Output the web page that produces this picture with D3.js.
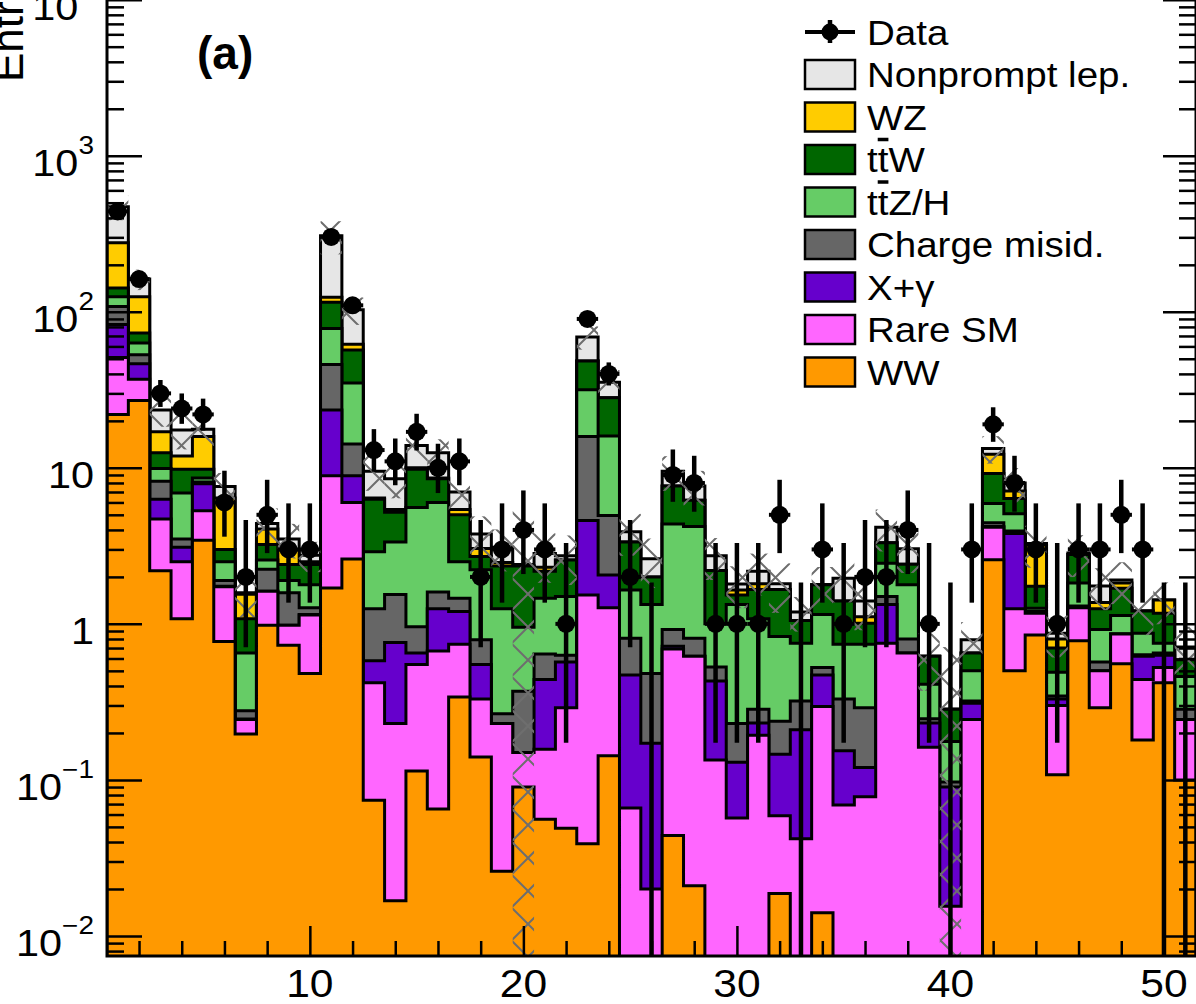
<!DOCTYPE html>
<html>
<head>
<meta charset="utf-8">
<script src="https://cdn.jsdelivr.net/npm/d3@7"></script>
<style>
body { margin: 0; background: #fff; }
text { font-family: "Liberation Sans", Arial, Helvetica, sans-serif; fill: #000; }
</style>
</head>
<body>
<svg id="chart" width="1196" height="1004"></svg>
<script>
// Bins 1..51, yields per process
var bins = d3.range(1, 52);

var ww = [22, 27, 2.19, 1.08, 3.43, 0.77, 0.197, 0.98, 0.73, 0.48,
    1.7, 2.6, 0.074, 0.0168, 0.114, 0.065, 0.34, 0.14, 0.026, 0.09,
    0.056, 0.049, 0.039, 0.143, 0, 0, 0.044, 0.021, 0, 0,
    0, 0.0187, 0, 0.0141, 0, 0, 0, 0, 0, 0,
    0, 2.58, 0.5, 0.85, 0.108, 0.78, 0.29, 0.556, 0.18, 0.42, 0.1];
var rareSM = [29, 10, 2.51, 1.42, 1.87, 0.96, 0.047, 0.64, 0.25, 0.66,
    7.2, 3.4, 0.346, 0.213, 0.436, 0.605, 0.4, 0.19, 0.204, 0.06,
    0.101, 0.241, 1.491, 1.127, 0.066, 0.02, 0.646, 0.599, 0.134, 0.057,
    0.193, 0.0403, 0.042, 0.2809, 0.069, 0.078, 0.75, 0.65, 0.162, 0.0155,
    0.244, 1.58, 0.75, 0.32, 0.192, 0.49, 0.21, 0.304, 0.26, 0.105, 0.144];
var xGamma = [32, 9.5, 1.6, 0.6, 2.6, 0.01, 0.002, 0, 0, 0.01,
    14.6, 2.9, 0.16, 0.53, 0.1, 0.58, 0.46, 0.22, 0, 0,
    0.283, 0.28, 3.07, 0.79, 0.404, 0.152, 0.03, 0, 0.296, 0.073,
    0.039, 0.087, 0.168, 0.175, 0.085, 0.042, 0.58, 0, 0.07, 0.0745,
    0.066, 0.04, 2.55, 0.01, 0.03, 0.01, 0, 0, 0.18, 0.105, 0];
var chargeMis = [25, 6.5, 1.9, 0.4, 0.2, 0.16, 0.031, 0.62, 0.6, 0.12,
    22.5, 5.3, 0.67, 0.78, 0.31, 0.35, 0.26, 0.24, 0.035, 0.22,
    0.2, 0.06, 11.3, 2.88, 0.34, 0.308, 0.2, 0.19, 0.1, 0.1,
    0.052, 0.092, 0.11, 0.055, 0.176, 0.17, 0.17, 0.15, 0.015, 0.007,
    0.01, 0.25, 0.14, 0.02, 0.015, 0.02, 0.07, 0, 0.015, 0.02, 0.04];
var ttZH = [17, 10, 1.7, 3.4, 0.5, 0.6, 0.373, 0.33, 0.32, 0.51,
    32, 20.8, 1.65, 1.81, 4.6, 4.4, 1.04, 1.43, 0.985, 0.58,
    0.82, 0.87, 15.7, 11.06, 0.84, 0.85, 3.44, 3.39, 0.47, 1.1,
    0.796, 0.592, 0.43, 0.625, 0.41, 0.45, 0.95, 0.98, 0.163, 0.079,
    0.18, 1.45, 1.13, 0.06, 0.145, 0.53, 0.35, 0.27, 0.235, 0.1, 0.176];
var ttW = [17, 10, 2.6, 2.9, 1.2, 0.5, 0.43, 0.66, 0.5, 0.62,
    37, 22, 3.4, 1.85, 4.24, 2.5, 2.5, 0.48, 1.1, 1.4,
    0.71, 1.07, 16.7, 12.1, 1.7, 0.67, 3.29, 2.0, 1.2, 0.2,
    0.58, 0.83, 0.3, 0.63, 0.66, 0.27, 0.86, 0.63, 0.21, 0.108,
    0.15, 3.3, 1.28, 0.48, 0.21, 0.95, 0.33, 0.56, 0.34, 0.42, 0.13];
var wz = [135, 52, 4.5, 2.1, 6.1, 3.4, 0.47, 0.83, 0.57, 0.1,
    9, 5, 0.1, 0.2, 0.2, 0.1, 0.4, 0.34, 0.12, 0,
    0.14, 0, 0, 0, 0, 0, 0, 0, 0, 0.12,
    0.15, 0, 0, 0, 0, 0.1, 0, 0, 0, 0,
    0, 3.0, 0.75, 1.46, 0.1, 0, 0.12, 0.14, 0, 0.25, 0];
var nonprompt = [194, 37, 6.5, 5.6, 1.8, 1.2, 0.03, 0.34, 0.53, 0.25,
    183, 41, 3.1, 3.1, 3.9, 3.9, 1.6, 0.72, 0.63, 0.05,
    0.51, 0.16, 20.6, 7.2, 0.55, 0.61, 1.85, 1.45, 0.53, 0.15,
    0.36, 0.15, 0.14, 0, 0.56, 0.29, 0.85, 0.62, 0, 0,
    0.14, 1.1, 0.88, 0.07, 0.07, 0.07, 0.38, 0.08, 0, 0, 0.12];

// relative uncertainty of the total prediction (hatched band)
var relUnc = [0.18, 0.15, 0.22, 0.25, 0.22, 0.22, 0.3, 0.25, 0.25, 0.22,
    0.24, 0.2, 0.25, 0.25, 0.22, 0.22, 0.25, 0.3, 0.3, 1.2,
    0.35, 0.35, 0.17, 0.2, 0.3, 0.35, 0.25, 0.25, 0.3, 0.3,
    0.3, 0.35, 0.25, 0.3, 0.3, 0.35, 0.3, 0.3, 0.4, 1.5,
    0.3, 0.2, 0.25, 0.3, 0.3, 0.3, 0.3, 0.3, 0.3, 0.3, 0.35];

var dataCounts = [440, 162, 30, 24, 22, 6, 2, 5, 3, 3,
    302, 110, 13, 11, 17, 10, 11, 2, 3, 4,
    3, 1, 90, 40, 2, 0, 9, 8, 1, 1,
    1, 5, 0, 3, 1, 2, 2, 4, 1, 0,
    3, 19, 8, 3, 1, 3, 3, 5, 3, 0, 0];

var processes = ["WW", "Rare SM", "X+\u03b3", "Charge misid.", "ttZ/H", "ttW", "WZ", "Nonprompt lep."];
var colors = ["#ff9900", "#ff66ff", "#6600cc", "#666666", "#66cc66", "#006600", "#ffcc00", "#e6e6e6"];
var yields = [ww, rareSM, xGamma, chargeMis, ttZH, ttW, wz, nonprompt];

var xMajor = [10, 20, 30, 40, 50];
var yDecades = [1e-2, 1e-1, 1, 10, 1e2, 1e3, 1e4];
var yLabelBase = ["10", "10", "1", "10", "10", "10", "10"];
var yLabelExp = ["\u22122", "\u22121", "", "", "2", "3", "4"];

(function() {
    // Scales //////////////////////////////////////////////////////////
    var plotLeft = 107, plotRight = 1196, plotBottom = 956, plotTop = -30;
    var floorY = plotBottom + 8;
    var x = d3.scaleLinear().domain([0.5, 51.5]).range([plotLeft, plotRight]);
    var y = d3.scaleLog().domain([0.00744, 15500]).range([plotBottom, plotTop]);

    var svg = d3.select("#chart");
    var defs = svg.append("defs");

    defs.append("clipPath").attr("id", "plotClip")
        .append("rect")
            .attr("x", plotLeft).attr("y", plotTop)
            .attr("width", plotRight - plotLeft).attr("height", plotBottom - plotTop);

    // cross hatch for the uncertainty band
    var hatch = defs.append("pattern")
        .attr("id", "hatch")
        .attr("patternUnits", "userSpaceOnUse")
        .attr("width", 33).attr("height", 33);
    hatch.append("path")
        .attr("d", "M0,0L33,33M33,0L0,33M-4,29L4,37M29,-4L37,4M-4,4L4,-4M29,37L37,29")
        .attr("stroke", "#6e6e6e")
        .attr("stroke-width", 2)
        .attr("fill", "none");

    function yClamp(v) {
        if (!(v > 0)) return floorY;
        return Math.min(y(v), floorY);
    }

    function stepPath(vals) {
        var p = "M" + x(0.5) + "," + floorY;
        vals.forEach(function(v, i) {
            var yy = yClamp(v);
            p += "L" + x(i + 0.5) + "," + yy + "L" + x(i + 1.5) + "," + yy;
        });
        return p + "L" + x(51.5) + "," + floorY + "Z";
    }

    // Stack ///////////////////////////////////////////////////////////
    var rows = bins.map(function(b, i) {
        var r = {};
        processes.forEach(function(p, k) { r[p] = yields[k][i]; });
        return r;
    });
    var series = d3.stack().keys(processes)(rows);

    var plot = svg.append("g").attr("clip-path", "url(#plotClip)");

    // draw cumulative histograms from the top one down
    series.slice().reverse().forEach(function(s) {
        plot.append("path")
            .attr("d", stepPath(s.map(function(d) { return d[1]; })))
            .attr("fill", colors[s.index])
            .attr("stroke", "#000")
            .attr("stroke-width", 3)
            .attr("stroke-linejoin", "miter");
    });

    // Uncertainty band
    var totals = series[series.length - 1].map(function(d) { return d[1]; });
    plot.selectAll(".band")
        .data(totals)
        .enter()
        .append("rect")
            .attr("class", "band")
            .attr("x", function(d, i) { return x(i + 0.5); })
            .attr("width", x(1.5) - x(0.5))
            .attr("y", function(d, i) { return y(d * (1 + relUnc[i])); })
            .attr("height", function(d, i) {
                return Math.max(0, yClamp(d * (1 - relUnc[i])) - y(d * (1 + relUnc[i])));
            })
            .attr("fill", "url(#hatch)");

    // Data (Garwood intervals) ////////////////////////////////////////
    function poissonCdf(k, mu) {
        if (k < 0) return 0;
        var terms = [];
        var lf = 0;
        for (var i = 0; i <= k; i++) {
            if (i > 1) lf += Math.log(i);
            terms.push(-mu + i * Math.log(mu) - lf);
        }
        var m = d3.max(terms);
        return Math.exp(m) * d3.sum(terms, function(t) { return Math.exp(t - m); });
    }
    function solve(f, target, lo, hi) {
        for (var it = 0; it < 80; it++) {
            var mid = (lo + hi) / 2;
            if (f(mid) > target) lo = mid; else hi = mid;
        }
        return (lo + hi) / 2;
    }
    var alpha = (1 - 0.6827) / 2;
    var dataPts = dataCounts.map(function(n, i) {
        var hiLim = n + 10 * Math.sqrt(n) + 10;
        var up = solve(function(mu) { return poissonCdf(n, mu); }, alpha, 1e-9, hiLim);
        var dn = n > 0 ? solve(function(mu) { return poissonCdf(n - 1, mu); }, 1 - alpha, 1e-9, hiLim) : 0;
        return {bin: bins[i], n: n, up: up, dn: dn};
    });

    plot.selectAll(".ebar")
        .data(dataPts)
        .enter()
        .append("line")
            .attr("class", "ebar")
            .attr("x1", function(d) { return x(d.bin); })
            .attr("x2", function(d) { return x(d.bin); })
            .attr("y1", function(d) { return yClamp(d.dn); })
            .attr("y2", function(d) { return y(d.up); })
            .attr("stroke", "#000")
            .attr("stroke-width", 4.5);

    plot.selectAll(".hbar")
        .data(dataPts.filter(function(d) { return d.n > 0; }))
        .enter()
        .append("line")
            .attr("class", "hbar")
            .attr("x1", function(d) { return x(d.bin - 0.5); })
            .attr("x2", function(d) { return x(d.bin + 0.5); })
            .attr("y1", function(d) { return y(d.n); })
            .attr("y2", function(d) { return y(d.n); })
            .attr("stroke", "#000")
            .attr("stroke-width", 4);

    plot.selectAll(".dot")
        .data(dataPts.filter(function(d) { return d.n > 0; }))
        .enter()
        .append("circle")
            .attr("class", "dot")
            .attr("cx", function(d) { return x(d.bin); })
            .attr("cy", function(d) { return y(d.n); })
            .attr("r", 9)
            .attr("fill", "#000");

    // Axes ////////////////////////////////////////////////////////////
    var yMinor = [];
    d3.range(-3, 5).forEach(function(e) {
        d3.range(2, 10).forEach(function(k) {
            var v = k * Math.pow(10, e);
            if (v > 0.00744 && v < 15500) yMinor.push(v);
        });
    });
    var xMinor = d3.range(2, 52, 2).filter(function(v) { return v % 10 !== 0; });

    function styleAxis(g) {
        g.select(".domain").remove();
        g.selectAll(".tick line").attr("stroke", "#000").attr("stroke-width", 2.5);
    }

    svg.append("g").attr("transform", "translate(" + plotLeft + ",0)")
        .call(d3.axisLeft(y).tickValues(yDecades).tickSize(-35).tickFormat("")).call(styleAxis);
    svg.append("g").attr("transform", "translate(" + plotLeft + ",0)")
        .call(d3.axisLeft(y).tickValues(yMinor).tickSize(-17).tickFormat("")).call(styleAxis);
    svg.append("g").attr("transform", "translate(" + plotRight + ",0)")
        .call(d3.axisRight(y).tickValues(yDecades).tickSize(-33).tickFormat("")).call(styleAxis);
    svg.append("g").attr("transform", "translate(" + plotRight + ",0)")
        .call(d3.axisRight(y).tickValues(yMinor).tickSize(-17).tickFormat("")).call(styleAxis);
    svg.append("g").attr("transform", "translate(0," + plotBottom + ")")
        .call(d3.axisBottom(x).tickValues(xMajor).tickSize(-30).tickFormat("")).call(styleAxis);
    svg.append("g").attr("transform", "translate(0," + plotBottom + ")")
        .call(d3.axisBottom(x).tickValues(xMinor).tickSize(-15).tickFormat("")).call(styleAxis);

    // frame
    svg.append("rect")
        .attr("x", plotLeft).attr("y", plotTop)
        .attr("width", plotRight - plotLeft).attr("height", plotBottom - plotTop)
        .attr("fill", "none").attr("stroke", "#000").attr("stroke-width", 3);

    // y labels
    var yLab = svg.selectAll(".ylab")
        .data(yDecades)
        .enter()
        .append("g")
            .attr("class", "ylab")
            .attr("transform", function(d) { return "translate(94," + (y(d) + 20) + ") scale(1.12,1)"; })
        .append("text")
            .attr("text-anchor", "end")
            .attr("font-size", 37);
    yLab.append("tspan").text(function(d, i) { return yLabelBase[i]; });
    yLab.append("tspan")
        .attr("dy", function(d, i) { return yLabelExp[i] ? -22 : 0; })
        .attr("font-size", 25)
        .text(function(d, i) { return yLabelExp[i]; });

    // x labels
    svg.selectAll(".xlab")
        .data(xMajor)
        .enter()
        .append("g")
            .attr("class", "xlab")
            .attr("transform", function(d) { return "translate(" + x(d) + ",997) scale(1.12,1)"; })
        .append("text")
            .attr("text-anchor", "middle")
            .attr("font-size", 38)
            .text(function(d) { return d; });

    // y title
    svg.append("text")
        .attr("transform", "translate(23,82) rotate(-90)")
        .attr("font-size", 44)
        .text("Entries");

    // panel label
    svg.append("text")
        .attr("x", 197).attr("y", 69)
        .attr("font-size", 46)
        .attr("font-weight", "bold")
        .text("(a)");

    // Legend //////////////////////////////////////////////////////////
    var legend = svg.append("g");
    var rowH = 42.5, row0 = 32;

    legend.append("line").attr("x1", 805).attr("x2", 855).attr("y1", row0).attr("y2", row0)
        .attr("stroke", "#000").attr("stroke-width", 4);
    legend.append("line").attr("x1", 830).attr("x2", 830).attr("y1", row0 - 12).attr("y2", row0 + 11)
        .attr("stroke", "#000").attr("stroke-width", 4.5);
    legend.append("circle").attr("cx", 830).attr("cy", row0).attr("r", 8.5).attr("fill", "#000");

    var legendItems = processes.map(function(p, k) { return {name: p, color: colors[k]}; }).reverse();
    legendItems.unshift({name: "Data", color: null});

    var items = legend.selectAll(".item")
        .data(legendItems)
        .enter()
        .append("g")
            .attr("class", "item")
            .attr("transform", function(d, i) { return "translate(0," + (row0 + i * rowH) + ")"; });

    items.filter(function(d) { return d.color; })
        .append("rect")
            .attr("x", 805).attr("y", -14.5)
            .attr("width", 50).attr("height", 29)
            .attr("fill", function(d) { return d.color; })
            .attr("stroke", "#000").attr("stroke-width", 2.5);

    var lt = items.append("g")
        .attr("transform", "translate(867,12.5) scale(1.1,1)")
        .append("text")
            .attr("font-size", 35);
    lt.each(function(d) {
        var t = d3.select(this);
        if (d.name === "ttW" || d.name === "ttZ/H") {
            t.append("tspan").text("t");
            t.append("tspan").style("text-decoration", "overline").text("t");
            t.append("tspan").text(d.name.slice(2));
        } else {
            t.text(d.name);
        }
    });
})();
</script>
</body>
</html>
